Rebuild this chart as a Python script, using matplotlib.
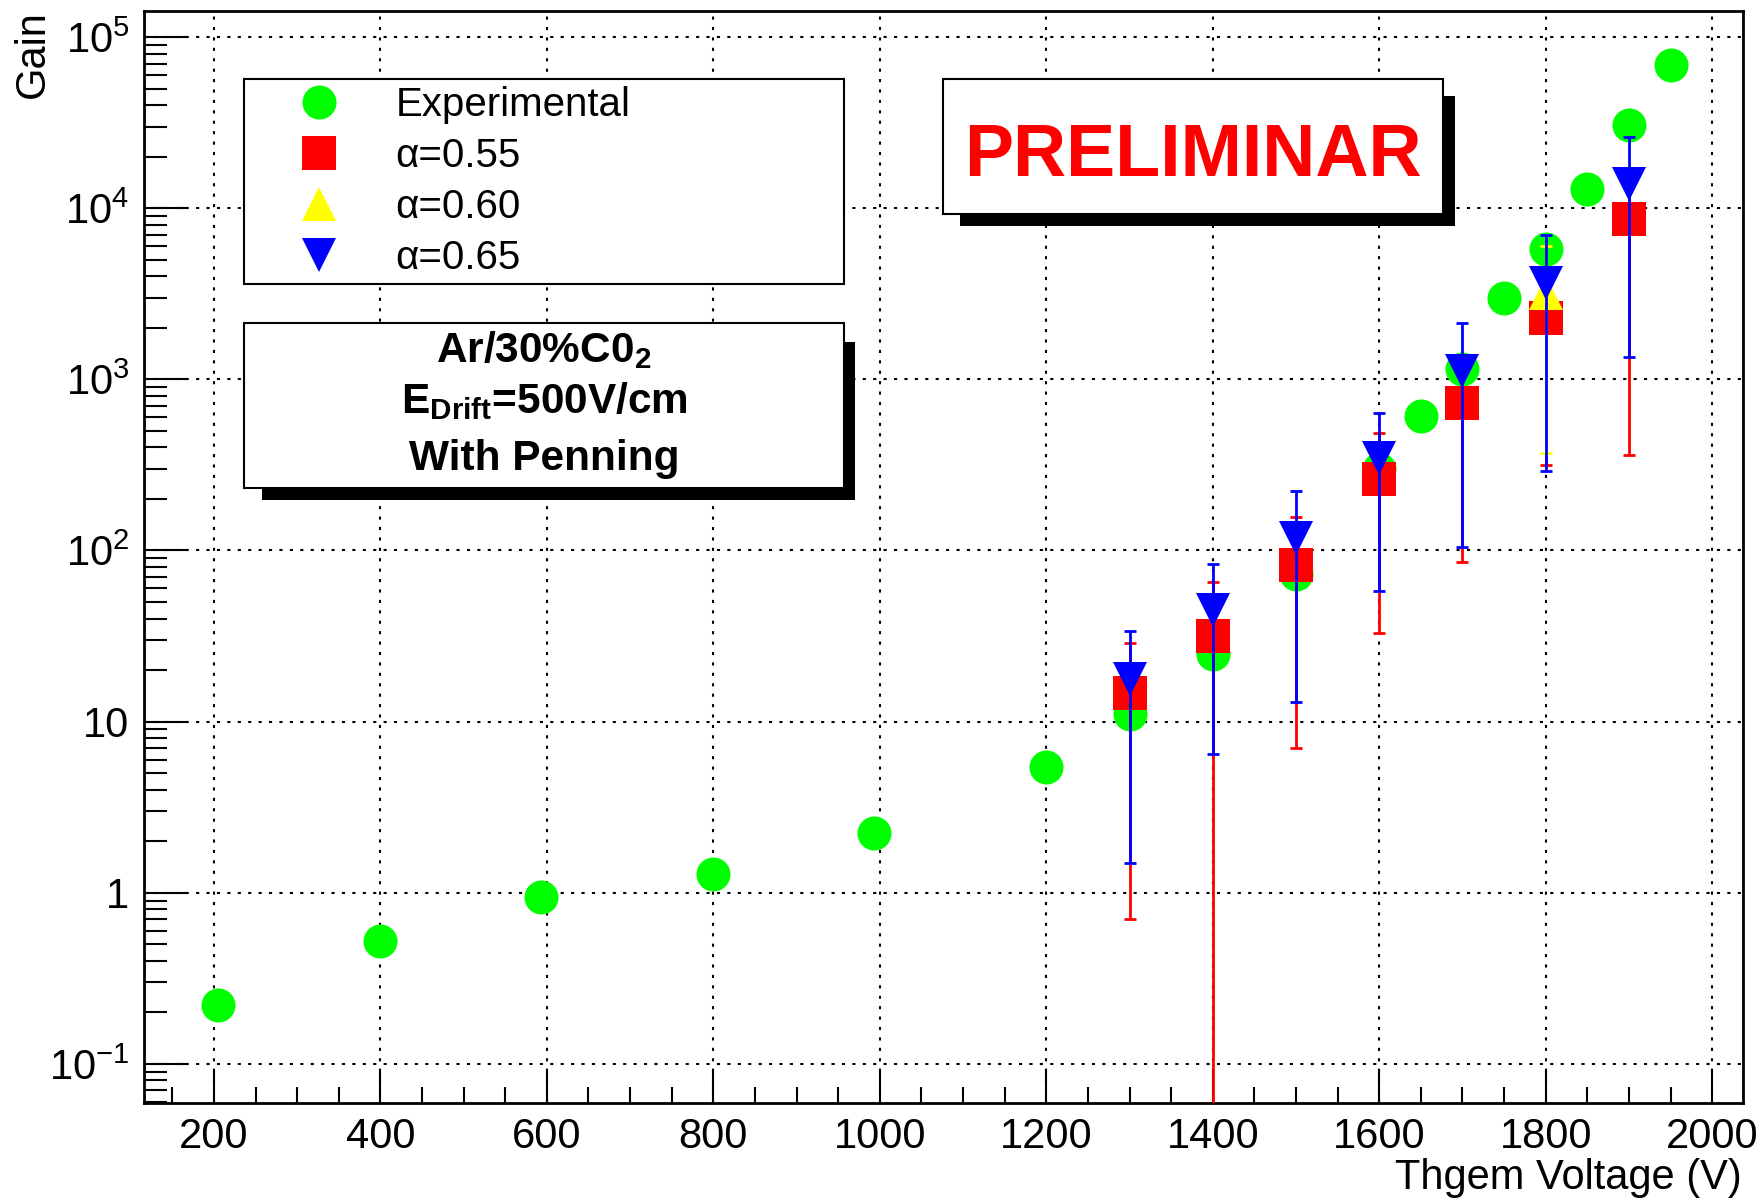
import matplotlib
matplotlib.use('Agg')
import matplotlib.pyplot as plt
from matplotlib.patches import Rectangle
from matplotlib.lines import Line2D
from matplotlib.ticker import FixedLocator, MultipleLocator, LogLocator, NullFormatter

plt.rcParams['font.family'] = ['Liberation Sans', 'DejaVu Sans']
plt.rcParams['mathtext.fontset'] = 'custom'
plt.rcParams['mathtext.rm'] = 'Liberation Sans'
plt.rcParams['mathtext.it'] = 'Liberation Sans:italic'
plt.rcParams['mathtext.bf'] = 'Liberation Sans:bold'

# measured gain vs THGEM voltage
exp_volt = [205, 400, 593, 800, 993, 1200, 1300, 1400, 1500, 1600, 1650, 1700, 1750, 1800, 1850, 1900, 1950]
exp_gain = [0.22, 0.52, 0.94, 1.29, 2.23, 5.4, 11.1, 25, 73, 300, 607, 1150, 3000, 5800, 12900, 30700, 68500]

# simulations (penning transfer alpha)
sim_volt = [1300, 1400, 1500, 1600, 1700, 1800, 1900]
a055_gain = [14.7, 31.8, 82, 260, 723, 2290, 8710]
a055_err = [14, 34, 75, 227, 637, 1975, 8350]
a060_volt = [1800]
a060_gain = [3200]
a060_err = [2830]
a065_gain = [17.7, 45, 118, 348, 1125, 3650, 13800]
a065_err = [16.2, 38.5, 105, 290, 1020, 3360, 12450]

y_ticks = [0.1, 1, 10, 1e2, 1e3, 1e4, 1e5]
y_ticklabels = [r'$10^{-1}$', '1', '10', r'$10^{2}$', r'$10^{3}$', r'$10^{4}$', r'$10^{5}$']

W, H = 1765, 1201
fig = plt.figure(figsize=(W / 100, H / 100), dpi=100)

def fx(px):
    return px / W

def fy(py):
    return 1 - py / H

ax = fig.add_axes([fx(144), fy(1103), fx(1743) - fx(144), fy(11) - fy(1103)])
ax.set_yscale('log')
ax.set_xlim(116, 2037)
ax.set_ylim(10 ** -1.229, 10 ** 5.153)

ms = 24.5
ax.plot(exp_volt, exp_gain, ls='none', marker='o', ms=ms, color='#00ff00', mew=0, zorder=3)

series = [
    (sim_volt, a055_gain, a055_err, 's', '#ff0000', 4),
    (a060_volt, a060_gain, a060_err, '^', '#ffff00', 5),
    (sim_volt, a065_gain, a065_err, 'v', '#0000ff', 6),
]
for xs, ys, es, mk, col, z in series:
    ax.errorbar(xs, ys, yerr=es, fmt='none', ecolor=col, elinewidth=2, capsize=4, capthick=2, zorder=z)
    ax.plot(xs, ys, ls='none', marker=mk, ms=ms, color=col, mew=0, zorder=z + 0.1)

ax.grid(True, which='major', color='black', linestyle=(0, (1.5, 3.5)), linewidth=1.5)
ax.set_axisbelow(True)

ax.xaxis.set_major_locator(MultipleLocator(200))
ax.xaxis.set_minor_locator(MultipleLocator(50))
ax.yaxis.set_major_locator(FixedLocator(y_ticks))
ax.set_yticklabels(y_ticklabels)
ax.yaxis.set_minor_locator(LogLocator(base=10, subs=range(2, 10), numticks=20))
ax.yaxis.set_minor_formatter(NullFormatter())

ax.tick_params(axis='x', which='major', direction='in', length=23, width=1.5, labelsize=30, pad=10)
ax.tick_params(axis='x', which='minor', direction='in', length=11.5, width=1.5)
ax.tick_params(axis='y', which='major', direction='in', length=32, width=1.5, labelsize=30, pad=10.5)
ax.tick_params(axis='y', which='minor', direction='in', length=16.5, width=1.5)
ax.tick_params(top=False, right=False, which='both')
for sp in ax.spines.values():
    sp.set_linewidth(2)

fig.text(fx(1742), fy(1178), 'Thgem Voltage (V)', fontsize=30, ha='right', va='center')
fig.text(fx(33), fy(10), 'Gain', fontsize=30, rotation=90, ha='center', va='top')

handles = [
    Line2D([], [], ls='none', marker='o', ms=ms, color='#00ff00', mew=0),
    Line2D([], [], ls='none', marker='s', ms=ms, color='#ff0000', mew=0),
    Line2D([], [], ls='none', marker='^', ms=ms, color='#ffff00', mew=0),
    Line2D([], [], ls='none', marker='v', ms=ms, color='#0000ff', mew=0),
]
labels = ['Experimental', 'α=0.55', 'α=0.60', 'α=0.65']
leg = ax.legend(handles, labels, loc='upper left',
                bbox_to_anchor=(fx(244), fy(283), fx(844) - fx(244), fy(79) - fy(283)),
                bbox_transform=fig.transFigure, mode='expand', borderaxespad=0,
                fontsize=29, numpoints=1, labelspacing=0.32, borderpad=0.18,
                handlelength=3.35, handletextpad=0.23, fancybox=False, framealpha=1)
leg.get_frame().set_edgecolor('black')
leg.get_frame().set_linewidth(1.5)

# medium info box with shadow
fig.add_artist(Rectangle((fx(262), fy(500)), fx(855) - fx(262), fy(342) - fy(500),
                         transform=fig.transFigure, facecolor='black', edgecolor='none', zorder=5))
fig.add_artist(Rectangle((fx(244), fy(488)), fx(844) - fx(244), fy(323) - fy(488),
                         transform=fig.transFigure, facecolor='white', edgecolor='black', lw=1.5, zorder=6))
fig.text(fx(544), fy(362), r'Ar/30%C0$_{\mathbf{2}}$', fontsize=30.5, fontweight='bold', ha='center', va='baseline', zorder=7)
fig.text(fx(544), fy(413), r'E$_{\mathbf{Drift}}$=500V/cm', fontsize=30.5, fontweight='bold', ha='center', va='baseline', zorder=7)
fig.text(fx(544), fy(470), 'With Penning', fontsize=30.5, fontweight='bold', ha='center', va='baseline', zorder=7)

# preliminary box with shadow
fig.add_artist(Rectangle((fx(960), fy(226)), fx(1455) - fx(960), fy(96) - fy(226),
                         transform=fig.transFigure, facecolor='black', edgecolor='none', zorder=5))
fig.add_artist(Rectangle((fx(943), fy(214)), fx(1443) - fx(943), fy(79) - fy(214),
                         transform=fig.transFigure, facecolor='white', edgecolor='black', lw=1.5, zorder=6))
fig.text(fx(1193), fy(175.5), 'PRELIMINAR', fontsize=53, fontweight='bold', color='#ff0000',
         ha='center', va='baseline', zorder=7)

fig.savefig('out.png', dpi=100)
